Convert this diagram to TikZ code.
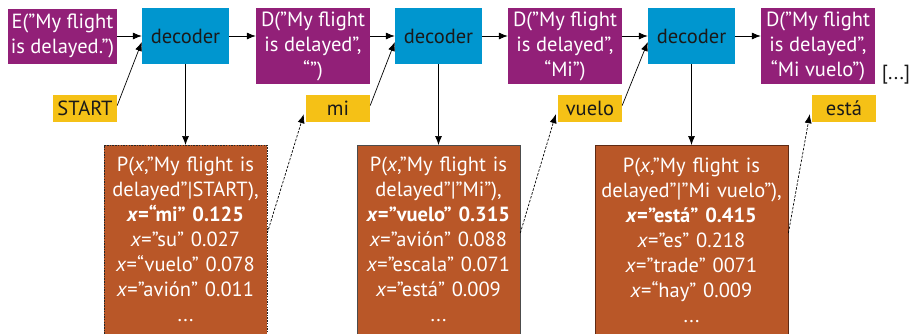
\documentclass[tikz,border=0pt]{standalone}
\usepackage{fontspec}
\setmainfont{PT Sans}
\usetikzlibrary{arrows.meta,calc}
\definecolor{purp}{HTML}{922078}
\definecolor{decblue}{HTML}{0096CF}
\definecolor{yel}{HTML}{F5C116}
\definecolor{brn}{HTML}{B95728}
\definecolor{brndark}{HTML}{5E2A14}
\definecolor{txtdark}{HTML}{1A1A1A}
\begin{document}
\begin{tikzpicture}[x=1pt,y=-1pt,
  base/.style={inner sep=0pt, align=center, font=\fontsize{20.5}{25}\selectfont},
  encbox/.style={base, fill=purp, text=white, minimum width=114pt, minimum height=76pt},
  decbox/.style={base, fill=decblue, text=txtdark, minimum width=87pt, minimum height=56pt},
  wordbox/.style={base, fill=yel, text=txtdark, minimum width=64pt, minimum height=27pt},
  pbox/.style={base, fill=brn, text=white, anchor=north, minimum width=163pt, text width=157pt, inner xsep=3pt, inner ysep=12pt},
  arr/.style={-{Latex[length=9pt,width=7pt]}, line width=0.7pt, black},
  darr/.style={-{Latex[length=9pt,width=7pt]}, line width=0.7pt, black, dash pattern=on 2.5pt off 1.5pt}
]
\useasboundingbox (0,0) rectangle (914,333);

% top row
\node[encbox, minimum width=109pt, minimum height=55pt] (E) at (62.5,36) {E(”My flight\\is delayed.”)};
\node[decbox] (dec1) at (185.5,36) {decoder};
\node[encbox] (D1) at (313,46) {D(”My flight\\is delayed”,\\“”)};
\node[decbox] (dec2) at (438.5,36) {decoder};
\node[encbox] (D2) at (565,46) {D(”My flight\\is delayed”,\\“Mi”)};
\node[decbox] (dec3) at (691.5,36) {decoder};
\node[encbox] (D3) at (818,46) {D(”My flight\\is delayed”,\\“Mi vuelo”)};
\node[base, text=txtdark] (more) at (896,75) {[...]};

% word boxes
\node[wordbox] (start) at (85,108.5) {START};
\node[wordbox] (mi) at (338,108.5) {mi};
\node[wordbox] (vuelo) at (590,108.5) {vuelo};
\node[wordbox] (esta) at (844,108.5) {está};

% probability boxes
\node[pbox, draw=black!85, dash pattern=on 1.5pt off 1.2pt, line width=0.6pt] (p1) at (185.5,145)
 {P(\textit{x},”My flight is\\delayed”|START),\\\textbf{\textit{x}=“mi” 0.125}\\\textit{x}=”su” 0.027\\\textit{x}=“vuelo” 0.078\\\textit{x}=”avión” 0.011\\...};
\node[pbox, draw=black!70, line width=0.6pt] (p2) at (438.5,145)
 {P(\textit{x},”My flight is\\delayed”|”Mi”),\\\textbf{\textit{x}=”vuelo” 0.315}\\\textit{x}=”avión” 0.088\\\textit{x}=”escala” 0.071\\\textit{x}=”está” 0.009\\...};
\node[pbox, minimum width=193pt, text width=187pt, draw=brndark, line width=0.8pt] (p3) at (691.5,145)
 {P(\textit{x},”My flight is\\delayed”|”Mi vuelo”),\\\textbf{\textit{x}=”está” 0.415}\\\textit{x}=”es” 0.218\\\textit{x}=”trade” 0071\\\textit{x}=“hay” 0.009\\...};

% connectors
\draw[arr] (E.east) -- (dec1.west);
\draw[arr] ([yshift=3pt]start.east) -- ([yshift=-6pt]dec1.west);
\draw[arr] (dec1.east) -- (dec1.east -| D1.west);
\draw[arr] (D1.east |- dec2.west) -- (dec2.west);
\draw[arr] ([yshift=3pt]mi.east) -- ([yshift=-6pt]dec2.west);
\draw[arr] (dec2.east) -- (dec2.east -| D2.west);
\draw[arr] (D2.east |- dec3.west) -- (dec3.west);
\draw[arr] ([yshift=3pt]vuelo.east) -- ([yshift=-6pt]dec3.west);
\draw[arr] (dec3.east) -- (dec3.east -| D3.west);

\draw[arr] (dec1.south) -- (p1.north);
\draw[arr] (dec2.south) -- (p2.north);
\draw[arr] (dec3.south) -- (p3.north);

\draw[darr] ($(p1.north east)+(0,88)$) -- ($(mi.south west)+(-2,-8)$);
\draw[darr] ($(p2.north east)+(0,88)$) -- ($(vuelo.south west)+(-2,-8)$);
\draw[darr] ($(p3.north east)+(0,88)$) -- ($(esta.south west)+(-2,-8)$);
\end{tikzpicture}
\end{document}
